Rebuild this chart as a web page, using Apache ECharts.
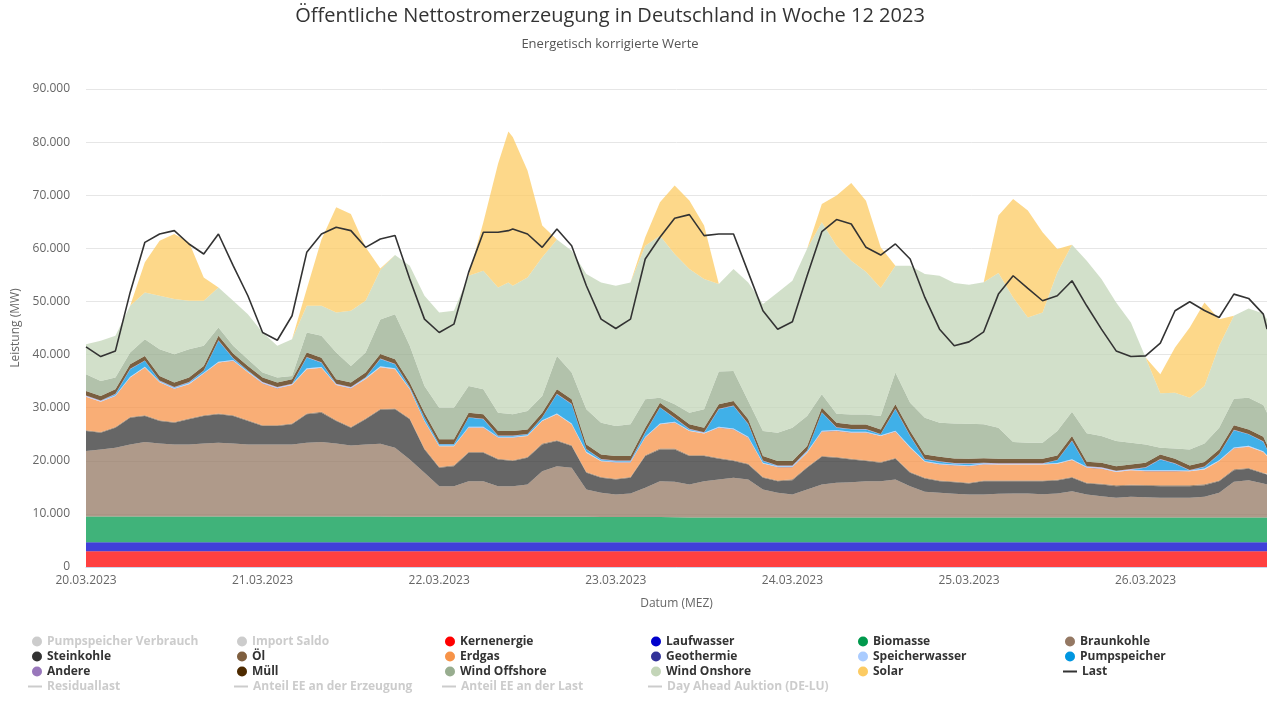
<!DOCTYPE html>
<html><head><meta charset="utf-8">
<script src="https://cdn.jsdelivr.net/npm/echarts@6/dist/echarts.min.js"></script>
<style>html,body{margin:0;padding:0;background:#fff}#c{width:1267px;height:702px}</style>
</head><body><div id="c"></div><script>
// hours since 20.03.2023 00:00 (MEZ)
const hours = [
 0,2,4,6,8,10,12,14,16,18,20,22,
 24,26,28,30,32,34,36,38,40,42,44,46,
 48,50,52,54,56,57.4,58,60,62,64,66,68,70,
 72,74,76,78,80,82,84,86,88,90,92,94,
 96,98,100,102,104,106,108,110,112,114,116,118,
 120,122,124,126,128,130,132,134,136,138,140,142,
 144,146,148,150,152,154,156,158,160,160.5];
const dayLabels = ['20.03.2023','21.03.2023','22.03.2023','23.03.2023','24.03.2023','25.03.2023','26.03.2023'];

const kernenergie = [
 2950,2950,2950,2950,2950,2950,2950,2950,2950,2950,2950,2950,
 2950,2950,2950,2950,2950,2950,2950,2950,2950,2950,2950,2950,
 2950,2950,2950,2950,2950,2950,2950,2950,2950,2950,2950,2950,2950,
 2950,2950,2950,2950,2950,2950,2950,2950,2950,2950,2950,2950,
 2950,2950,2950,2950,2950,2950,2950,2950,2950,2950,2950,2950,
 2950,2950,2950,2950,2950,2950,2950,2950,2950,2950,2950,2950,
 2950,2950,2950,2950,2950,2950,2950,2950,2950,2950];
const laufwasser = [
 1700,1700,1700,1700,1700,1700,1700,1700,1700,1700,1700,1700,
 1700,1700,1700,1700,1700,1700,1700,1700,1700,1700,1700,1700,
 1700,1700,1700,1700,1700,1700,1700,1700,1700,1700,1700,1700,1700,
 1700,1700,1700,1700,1700,1700,1700,1700,1700,1700,1700,1700,
 1700,1700,1700,1700,1700,1700,1700,1700,1700,1700,1700,1700,
 1700,1700,1700,1700,1700,1700,1700,1700,1700,1700,1700,1700,
 1700,1700,1700,1700,1700,1700,1700,1700,1700,1700];
const biomasse = [
 4850,4850,4850,4850,4850,4850,4850,4850,4850,4850,4850,4850,
 4850,4850,4850,4850,4850,4850,4850,4850,4850,4800,4800,4800,
 4800,4800,4800,4800,4800,4800,4800,4800,4800,4800,4800,4800,4750,
 4750,4750,4750,4750,4700,4650,4650,4650,4650,4650,4650,4650,
 4650,4650,4650,4650,4650,4650,4650,4650,4650,4650,4650,4650,
 4650,4650,4650,4650,4650,4650,4650,4650,4650,4650,4650,4650,
 4650,4650,4650,4650,4650,4650,4650,4650,4650,4650];
const braunkohle = [
 12320,12640,12950,13580,14020,13770,13580,13580,13770,13900,13770,13580,
 13580,13580,13580,13900,14020,13770,13390,13580,13700,13000,10800,8290,
 5770,5770,6710,6710,5770,5770,5770,6080,8600,9540,9230,5140,4560,
 4250,4440,5510,6760,6690,6230,6860,7180,7490,7180,5290,4660,
 4350,5290,6230,6550,6670,6860,6860,7180,5920,4850,4660,4470,
 4350,4350,4470,4540,4540,4410,4540,4980,4350,4030,3720,3910,
 3840,3720,3720,3720,3910,4660,6740,7050,6420,6230];
const steinkohle = [
 3780,3140,3780,5030,4910,4210,4090,4720,5160,5340,5160,4400,
 3460,3460,3780,5340,5540,4210,3340,4720,6400,7240,7550,4400,
 3460,3770,5350,5350,5030,4840,4720,5040,5030,4720,4090,3150,2830,
 2830,2950,5970,5980,6100,5350,4720,3900,3150,2830,2200,2200,
 2700,4090,5220,4720,4280,3780,3460,3900,2520,2520,2200,2200,
 2070,2510,2390,2320,2320,2450,2450,2510,2070,2200,2200,2140,
 2140,2200,2200,2200,2200,2200,2200,2140,1890,1890];
const oel = [
 150,150,150,150,150,150,150,150,150,150,150,150,
 150,150,150,150,150,150,150,150,150,150,150,150,
 150,150,150,150,150,150,150,150,150,150,150,150,150,
 150,150,150,150,150,150,150,150,150,150,150,150,
 150,150,150,150,150,150,150,150,150,150,150,150,
 150,150,150,150,150,150,150,150,150,150,150,150,
 150,150,150,150,150,150,150,150,150,150];
const erdgas = [
 6290,5670,5780,7400,8970,7140,6200,6460,7820,9600,10220,9030,
 7870,6930,7240,8340,8290,6620,7240,7450,7860,7390,5510,5110,
 3900,3590,4570,4570,3940,4130,4250,3930,4250,4880,3940,3620,2950,
 3050,2740,3310,4570,4880,4570,4100,5700,5820,4880,2540,2480,
 2290,2680,4570,4900,4900,5200,4880,4940,4560,2990,3000,3000,
 3120,3000,2970,2970,2970,2970,2990,3190,2840,2840,2520,2710,
 2620,2680,2680,2650,2800,3630,3940,4000,3880,3310];
const geothermie = [
 20,20,20,20,20,20,20,20,20,20,20,20,
 20,20,20,20,20,20,20,20,20,20,20,20,
 20,20,20,20,20,20,20,20,20,20,20,20,20,
 20,20,20,20,20,20,20,20,20,20,20,20,
 20,20,20,20,20,20,20,20,20,20,20,20,
 20,20,20,20,20,20,20,20,20,20,20,20,
 20,20,20,20,20,20,20,20,20,20];
const speicherwasser = [
 150,150,150,150,150,150,150,150,150,150,150,150,
 150,150,150,150,150,150,150,150,150,150,150,150,
 150,150,150,150,150,150,150,150,150,150,150,150,150,
 150,150,150,150,150,150,150,150,150,150,150,150,
 150,150,150,150,150,150,150,150,150,150,150,150,
 150,150,150,150,150,150,150,150,150,150,150,150,
 150,150,150,150,150,150,150,150,150,150];
const pumpspeicher = [
 0,0,200,1420,1100,100,100,150,360,3930,300,100,
 0,0,0,2050,800,0,0,100,1400,790,160,560,
 200,200,1730,1410,160,160,160,160,480,3620,3610,470,200,
 100,100,790,2980,660,160,0,3300,4250,2360,300,50,
 50,160,3430,450,450,450,160,4060,2050,280,340,220,
 290,50,0,0,0,0,480,3420,0,0,0,0,
 470,2040,1230,0,290,1100,3240,2170,1790,1100];
const andere = [
 80,80,80,80,80,80,80,80,80,80,80,80,
 80,80,80,80,80,80,80,80,80,80,80,80,
 80,80,80,80,80,80,80,80,80,80,80,80,80,
 80,80,80,80,80,80,80,80,80,80,80,80,
 80,80,80,80,80,80,80,80,80,80,80,80,
 80,80,80,80,80,80,80,80,80,80,80,80,
 80,80,80,80,80,80,80,80,80,80];
const muell = [
 850,850,850,850,850,850,850,850,850,850,850,850,
 850,850,850,850,850,850,850,850,850,850,850,850,
 850,850,850,850,850,850,850,850,850,850,850,850,850,
 850,850,850,850,850,850,850,850,850,850,850,850,
 850,850,850,850,850,850,850,850,850,850,850,850,
 850,850,850,850,850,850,850,850,850,850,850,850,
 850,850,850,850,850,850,850,850,850,850];
const windOffshore = [
 3150,2830,2200,2200,3140,5040,5340,5350,3780,1570,1440,1260,
 940,940,620,3770,4120,5030,3140,3780,6470,8490,6920,5030,
 5970,5970,5030,4720,3460,3270,3140,3460,3140,6290,5030,6610,5980,
 5660,5980,5340,950,1700,2200,3460,6160,5660,3460,4720,5340,
 6290,5660,2520,1700,1880,1880,2520,5970,5340,6920,6420,6600,
 6600,6420,5850,3140,3020,3020,4590,4600,5350,5030,4720,4090,
 3460,1260,1950,3020,3520,4090,5030,5980,5970,5980];
const windOnshore = [
 5660,7550,7860,8800,8810,10060,10380,9120,8490,7550,8490,8490,
 7550,5980,6920,5030,5660,7540,10380,9750,9330,11130,15090,16980,
 17920,18240,20750,22330,23580,24710,24220,25160,26100,21890,22960,25470,26410,
 26420,26720,28930,30500,28300,27040,24520,16480,19180,22320,23900,26420,
 27670,31470,32390,31630,28930,26860,24090,20130,25790,27050,27670,26420,
 26160,26720,29120,27230,23580,24520,29870,31440,32510,29560,26100,22640,
 16350,10250,10500,9750,10820,15410,15600,16790,17240,17610];
const solar = [
 0,0,0,0,5660,10380,12260,11000,4400,0,0,0,
 0,0,0,3150,12460,19820,18240,10060,300,0,0,0,
 0,0,0,9120,23270,28430,27980,20120,5980,0,0,0,0,
 0,0,1580,6290,12890,12890,10070,0,0,0,0,0,
 0,0,3450,9440,14660,13390,7670,0,0,0,0,0,
 0,0,10810,18560,20130,15100,4400,0,0,0,0,0,
 0,3590,8490,13200,15720,5030,0,0,0,0];
const last = [
 41450,39620,40690,51700,61130,62700,63330,60820,58930,62700,56730,51070,
 44150,42700,47300,59250,62700,63960,63330,60190,61760,62400,54210,46670,
 44150,45720,55470,63020,63020,63330,63650,62700,60190,63650,60500,52960,46670,
 44910,46670,57990,62080,65660,66350,62390,62700,62700,55470,48240,44780,
 46160,54840,63140,65410,64590,60190,58740,60820,57990,50750,44780,41640,
 42390,44280,51380,54840,52450,50130,51070,53900,49180,44780,40690,39620,
 39750,42140,48240,49940,48300,46980,51380,50570,47610,44780];

const FONT = "'Open Sans', sans-serif";
// value first so that the library stacks the value dimension; x = hour via encode
const vh = arr => hours.map((h, i) => [arr[i], h]);
function area(name, color, values) {
  return {
    name, type: 'line', stack: 'erzeugung', data: vh(values), encode: { x: 1, y: 0 },
    symbol: 'none', showSymbol: false, silent: true,
    color: color, itemStyle: { color: color },
    lineStyle: { width: 0 },
    areaStyle: { color: color, opacity: 0.75 },
    emphasis: { disabled: true }
  };
}
function hiddenLine(name, color) {
  return { name, type: 'line', data: [], symbol: 'none', color: color,
    itemStyle: { color: color }, lineStyle: { width: 2, color: color } };
}

const series = [
  hiddenLine('Pumpspeicher Verbrauch', '#0099e6'),
  hiddenLine('Import Saldo', '#999999'),
  area('Kernenergie', '#ff0000', kernenergie),
  area('Laufwasser', '#0000cc', laufwasser),
  area('Biomasse', '#00994d', biomasse),
  area('Braunkohle', '#947863', braunkohle),
  area('Steinkohle', '#333333', steinkohle),
  area('Öl', '#7f5f3f', oel),
  area('Erdgas', '#f79348', erdgas),
  area('Geothermie', '#333399', geothermie),
  area('Speicherwasser', '#aaccff', speicherwasser),
  area('Pumpspeicher', '#0096e0', pumpspeicher),
  area('Andere', '#9977bb', andere),
  area('Müll', '#4d2a00', muell),
  area('Wind Offshore', '#98ad8f', windOffshore),
  area('Wind Onshore', '#c3d5b8', windOnshore),
  area('Solar', '#fccb63', solar),
  { name: 'Last', type: 'line', data: hours.map((h, i) => [h, last[i]]), symbol: 'none', silent: true,
    color: '#333333', itemStyle: { color: '#333333' }, lineStyle: { width: 1.6, color: '#333333' }, z: 5 },
  hiddenLine('Residuallast', '#888888'),
  hiddenLine('Anteil EE an der Erzeugung', '#888888'),
  hiddenLine('Anteil EE an der Last', '#888888'),
  hiddenLine('Day Ahead Auktion (DE-LU)', '#888888')
];

const c = n => ({ name: n, icon: 'circle' });
const legendBase = {
  orient: 'vertical', top: 634, itemWidth: 10, itemHeight: 10, itemGap: 0, padding: 0,
  inactiveColor: '#cccccc',
  textStyle: { fontFamily: FONT, fontSize: 12, fontWeight: 'bold', color: '#333333', lineHeight: 15 }
};
const lineLegend = { itemWidth: 14, itemHeight: 2, icon: 'rect' };
const legends = [
  { left: 32, data: [c('Pumpspeicher Verbrauch'), c('Steinkohle'), c('Andere')],
    selected: { 'Pumpspeicher Verbrauch': false } },
  { left: 237, data: [c('Import Saldo'), c('Öl'), c('Müll')],
    selected: { 'Import Saldo': false } },
  { left: 445, data: [c('Kernenergie'), c('Erdgas'), c('Wind Offshore')] },
  { left: 651, data: [c('Laufwasser'), c('Geothermie'), c('Wind Onshore')] },
  { left: 858, data: [c('Biomasse'), c('Speicherwasser'), c('Solar')] },
  { left: 1065, data: [c('Braunkohle'), c('Pumpspeicher')] },
  Object.assign({ left: 28, top: 679, data: ['Residuallast'], selected: { 'Residuallast': false } }, lineLegend),
  Object.assign({ left: 234, top: 679, data: ['Anteil EE an der Erzeugung'], selected: { 'Anteil EE an der Erzeugung': false } }, lineLegend),
  Object.assign({ left: 442, top: 679, data: ['Anteil EE an der Last'], selected: { 'Anteil EE an der Last': false } }, lineLegend),
  Object.assign({ left: 648, top: 679, data: ['Day Ahead Auktion (DE-LU)'], selected: { 'Day Ahead Auktion (DE-LU)': false } }, lineLegend),
  Object.assign({ left: 1063, top: 664, data: ['Last'] }, lineLegend)
].map(l => Object.assign({}, legendBase, l));

const chart = echarts.init(document.getElementById('c'));
chart.setOption({
  animation: false,
  backgroundColor: '#ffffff',
  title: [
    { text: 'Öffentliche Nettostromerzeugung in Deutschland in Woche 12 2023', left: 610, top: 6, padding: 0,
      textAlign: 'center', textStyle: { fontFamily: FONT, fontSize: 20, fontWeight: 'normal', color: '#333333' } },
    { text: 'Energetisch korrigierte Werte', left: 610, top: 38, padding: 0,
      textAlign: 'center', textStyle: { fontFamily: FONT, fontSize: 13, fontWeight: 'normal', color: '#555555' } }
  ],
  legend: legends,
  grid: { left: 86, right: 0, top: 89, bottom: 135, containLabel: false, outerBoundsMode: 'none' },
  xAxis: {
    type: 'value', min: 0, max: 160.5, interval: 24,
    name: 'Datum (MEZ)', nameLocation: 'middle', nameGap: 31,
    nameTextStyle: { fontFamily: FONT, fontSize: 12, color: '#666666' },
    axisLine: { show: true, lineStyle: { color: '#ccd6eb' } },
    axisTick: { show: false }, splitLine: { show: false },
    axisLabel: { fontFamily: FONT, fontSize: 12, color: '#666666', margin: 8, showMaxLabel: false,
      formatter: v => (v % 24 === 0 && dayLabels[v / 24]) ? dayLabels[v / 24] : '' }
  },
  yAxis: {
    type: 'value', min: 0, max: 90000, interval: 10000,
    name: 'Leistung (MW)', nameLocation: 'middle', nameGap: 64,
    nameTextStyle: { fontFamily: FONT, fontSize: 12, color: '#666666' },
    axisLine: { show: false }, axisTick: { show: false },
    splitLine: { lineStyle: { color: '#e6e6e6' } },
    axisLabel: { fontFamily: FONT, fontSize: 12, color: '#666666', margin: 16,
      formatter: v => v === 0 ? '0' : (v / 1000) + '.000' }
  },
  series: series
});
</script></body></html>
